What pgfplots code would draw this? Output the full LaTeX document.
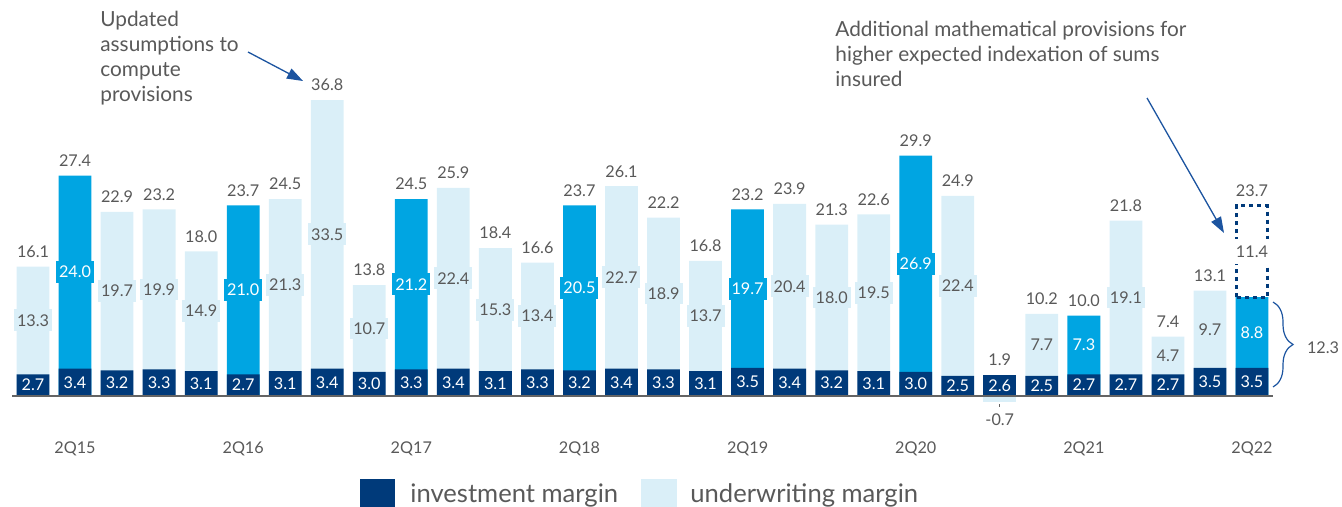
\documentclass[border=0pt]{standalone}
\usepackage{pgfplots}
\pgfplotsset{compat=1.18}
\usepackage{pgfplotstable}
\usepackage{fontspec}
\setmainfont{Lato}
\usetikzlibrary{arrows.meta,decorations.pathreplacing}
\definecolor{navy}{RGB}{0,58,122}
\definecolor{bright}{RGB}{0,165,226}
\definecolor{lightb}{RGB}{218,239,248}
\definecolor{txt}{RGB}{89,89,89}
\definecolor{arr}{RGB}{28,84,160}
\definecolor{basel}{RGB}{100,100,100}

\pgfplotstableread{
x inv uw tot
0 2.7 13.3 16.1
2 3.2 19.7 22.9
3 3.3 19.9 23.2
4 3.1 14.9 18.0
6 3.1 21.3 24.5
7 3.4 33.5 36.8
8 3.0 10.7 13.8
10 3.4 22.4 25.9
11 3.1 15.3 18.4
12 3.3 13.4 16.6
14 3.4 22.7 26.1
15 3.3 18.9 22.2
16 3.1 13.7 16.8
18 3.4 20.4 23.9
19 3.2 18.0 21.3
20 3.1 19.5 22.6
22 2.5 22.4 24.9
24 2.5 7.7 10.2
26 2.7 19.1 21.8
27 2.7 4.7 7.4
28 3.5 9.7 13.1
}\lightdata
\pgfplotstableread{
x inv uw tot
1 3.4 24.0 27.4
5 2.7 21.0 23.7
9 3.3 21.2 24.5
13 3.2 20.5 23.7
17 3.5 19.7 23.2
21 3.0 26.9 29.9
25 2.7 7.3 10.0
29 3.5 8.8 12.3
}\qtwodata
\pgfplotstableread{
x inv uw tot
23 2.6 -0.7 1.9
}\negdata
\pgfplotstableread{
x base add tot
29 12.3 11.4 23.7
}\extradata

\tikzset{valfont/.style={font=\fontsize{8.1}{9.5}\selectfont}}
\pgfplotsset{
  bars/.style={ybar, bar width=0.78, bar shift=0pt, draw=none},
  labs/.style={draw=none, mark=none, nodes near coords, point meta=explicit symbolic},
  toplab/.style={labs, every node near coord/.append style={anchor=south, inner sep=0pt, yshift=4.3pt, text=txt, valfont}},
  inlab/.style={labs, every node near coord/.append style={anchor=center, inner xsep=1.5pt, inner ysep=2.5pt, valfont, #1}},
}

\begin{document}
\begin{tikzpicture}
\path[use as bounding box] (0pt,0pt) rectangle (671pt,-253.5pt);
\begin{axis}[
  at={(6pt,-224.5pt)}, anchor=south west,
  scale only axis, width=630.5pt, height=224.5pt,
  xmin=-0.5, xmax=29.5, ymin=-6.59, ymax=49.25,
  axis line style={draw=none}, ytick=\empty,
  xtick={1,5,9,13,17,21,25,29},
  xticklabels={2Q15,2Q16,2Q17,2Q18,2Q19,2Q20,2Q21,2Q22},
  major tick length=0pt,
  xticklabel style={anchor=center, inner sep=0pt, text=txt, font=\fontsize{8.1}{9.5}\selectfont},
  clip=false,
]
% bars
\addplot[bars, fill=lightb] table[x=x,y=tot]{\lightdata};
\addplot[bars, fill=lightb] table[x=x,y=uw]{\negdata};
\addplot[bars, fill=bright] table[x=x,y=tot]{\qtwodata};
\addplot[bars, fill=navy] table[x=x,y=inv]{\lightdata};
\addplot[bars, fill=navy] table[x=x,y=inv]{\qtwodata};
\addplot[bars, fill=navy] table[x=x,y=inv]{\negdata};
% dotted box for additional provisions
\addplot[navy, line width=1.4pt, dash pattern=on 2pt off 2pt] coordinates {(28.64,12.3) (28.64,23.7) (29.36,23.7) (29.36,12.3) (28.64,12.3)};
% baseline
\addplot[basel, line width=1pt] coordinates {(-0.5,0) (29.5,0)};
\addplot[basel, line width=0.5pt] coordinates {(23,-1.0) (23,-1.35)};
% total labels
\addplot[toplab] table[x=x,y=tot,meta=tot]{\lightdata};
\addplot[toplab, skip coords between index={7}{8}] table[x=x,y=tot,meta=tot]{\qtwodata};
\addplot[toplab] table[x=x,y=inv,meta=tot]{\negdata};
\addplot[toplab] table[x=x,y=tot,meta=tot]{\extradata};
% underwriting labels
\addplot[inlab={fill=lightb, text=txt}] table[x=x, y expr={(\thisrow{inv}+\thisrow{tot})/2}, meta=uw]{\lightdata};
\addplot[inlab={fill=bright, text=white}] table[x=x, y expr={(\thisrow{inv}+\thisrow{tot})/2}, meta=uw]{\qtwodata};
\addplot[inlab={fill=white, text=txt, minimum width=19pt, inner ysep=3.2pt}] table[x=x, y expr={(\thisrow{base}+\thisrow{tot})/2}, meta=add]{\extradata};
% investment labels
\addplot[inlab={text=white, inner sep=0pt}] table[x=x, y expr={\thisrow{inv}/2}, meta=inv]{\lightdata};
\addplot[inlab={text=white, inner sep=0pt}] table[x=x, y expr={\thisrow{inv}/2}, meta=inv]{\qtwodata};
\addplot[inlab={text=white, inner sep=0pt}] table[x=x, y expr={\thisrow{inv}/2}, meta=inv]{\negdata};
% negative label
\addplot[labs, every node near coord/.append style={anchor=north, inner sep=0pt, yshift=-5.7pt, text=txt, valfont}] table[x=x,y=uw,meta=uw]{\negdata};
\end{axis}
\begin{scope}[x=0.5pt,y=-0.5pt]
\draw[arr, line width=0.65pt, -{Triangle[length=8pt,width=5.5pt]}] (248,52) -- (303,81);
\draw[arr, line width=0.65pt, -{Triangle[length=8pt,width=5.5pt]}] (1147,98) -- (1224,233);
\draw[arr, line width=0.6pt, decorate, decoration={brace, amplitude=10pt}] (1273,302) -- (1273,387);
\node[text=txt, valfont, anchor=center, inner sep=0pt] at (1323,348) {12.3};
\begin{scope}[every node/.style={anchor=base west, inner sep=0pt, text=txt, font=\fontsize{10.4}{12}\selectfont}]
\node at (100,27) {Updated};
\node at (100,52) {assumptions to};
\node at (100,77) {compute};
\node at (100,102) {provisions};
\node at (835,37) {Additional mathematical provisions for};
\node at (835,62) {higher expected indexation of sums};
\node at (835,87) {insured};
\end{scope}
\fill[navy] (360,479) rectangle (395,514);
\fill[lightb] (641,479) rectangle (677,514);
\begin{scope}[every node/.style={anchor=base west, inner sep=0pt, text=txt, font=\fontsize{12.8}{15}\selectfont}]
\node at (410,502) {investment margin};
\node at (690,502) {underwriting margin};
\end{scope}
\end{scope}
\end{tikzpicture}
\end{document}
